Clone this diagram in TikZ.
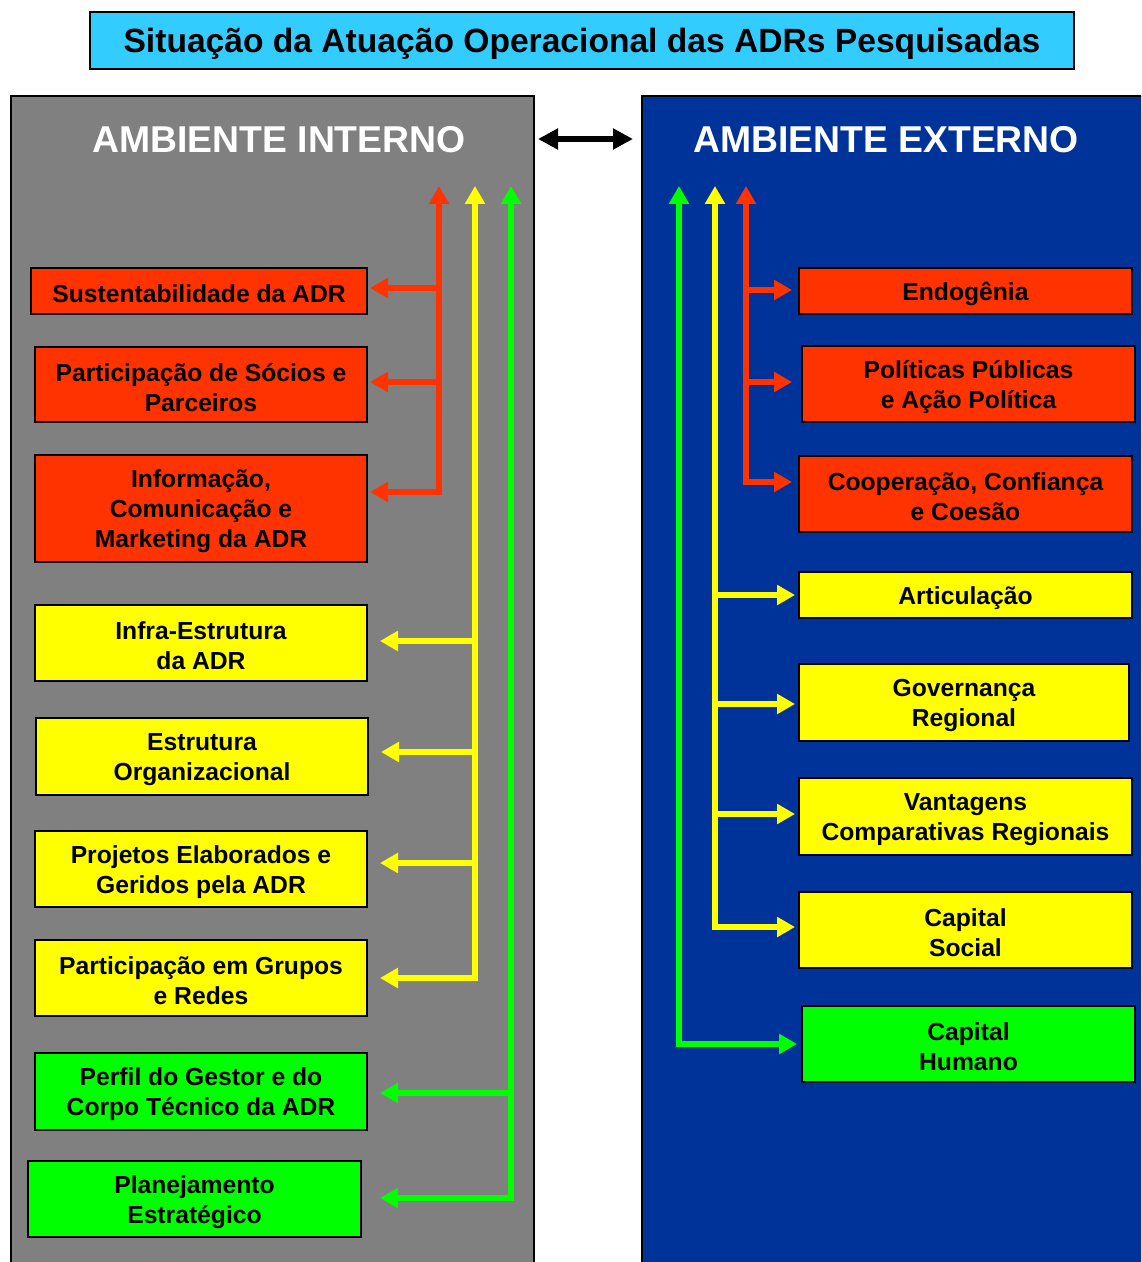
\documentclass[tikz,border=0pt]{standalone}
\usepackage{fontspec}
\setmainfont{Liberation Sans}
\usetikzlibrary{arrows.meta}
\definecolor{cred}{HTML}{FF3300}
\definecolor{cyel}{HTML}{FFFF00}
\definecolor{cgrn}{HTML}{00FF00}
\definecolor{cblue}{HTML}{003399}
\definecolor{cgray}{HTML}{808080}
\definecolor{ccyan}{HTML}{33CCFF}
\def\u{0.75pt}
\tikzset{
  box/.style={draw=black, line width=1.5pt, inner sep=0pt, align=center,
    font=\bfseries\fontsize{18.5}{22.5}\selectfont},
  oneline/.style={text height=18pt},
  twoline/.style={text height=40.5pt},
  threeline/.style={text height=63pt},
  rbox/.style={box, fill=cred},
  ybox/.style={box, fill=cyel},
  gbox/.style={box, fill=cgrn},
  conn/.style={line width=4.5pt, -{Triangle[length=13.5pt,width=14.5pt]}},
  both/.style={line width=4.5pt, {Triangle[length=13.5pt,width=14.5pt]}-{Triangle[length=13.5pt,width=14.5pt]}},
  panel/.style={draw=black, line width=1.2pt},
  head/.style={text=white, font=\bfseries\fontsize{28}{32}\selectfont},
}
\begin{document}
\begin{tikzpicture}[x=0.75pt,y=-0.75pt]
\useasboundingbox (0,0) rectangle (1141,1262);
\clip (0,0) rectangle (1141,1262);
\fill[white] (0,0) rectangle (1141,1262);
% title
\node[draw=black, line width=1.5pt, fill=ccyan, minimum width=984*\u, minimum height=57*\u, inner sep=0pt, text height=23pt,
  font=\bfseries\fontsize{25.2}{30}\selectfont] (title) at (582,40.5) {Situação da Atuação Operacional das ADRs Pesquisadas};
% panels
\fill[cgray] (11,96) rectangle (534,1270);
\draw[panel] (11,1270) -- (11,96) -- (534,96) -- (534,1270);
\fill[cblue] (642,96) rectangle (1150,1270);
\draw[panel] (1150,96) -- (642,96) -- (642,1270);
\node[head] (hi) at (279,140) {AMBIENTE INTERNO};
\node[head] (he) at (886,140) {AMBIENTE EXTERNO};
\coordinate (dl) at (538,139);
\coordinate (dr) at (633,139);
\draw[line width=4.5pt, {Triangle[length=15pt,width=15pt]}-{Triangle[length=15pt,width=15pt]}] (dl) -- (dr);
% left boxes
\node[rbox, oneline, minimum width=336*\u, minimum height=46*\u] (l1) at (199,291) {Sustentabilidade da ADR};
\node[rbox, twoline, minimum width=332*\u, minimum height=75*\u] (l2) at (201,384.5) {Participação de Sócios e\\Parceiros};
\node[rbox, threeline, minimum width=332*\u, minimum height=107*\u] (l3) at (201,508.5) {Informação,\\Comunicação e\\Marketing da ADR};
\node[ybox, twoline, minimum width=332*\u, minimum height=76*\u] (l4) at (201,643) {Infra-Estrutura\\da ADR};
\node[ybox, twoline, minimum width=332*\u, minimum height=77*\u] (l5) at (202,756.5) {Estrutura\\Organizacional};
\node[ybox, twoline, minimum width=332*\u, minimum height=76*\u] (l6) at (201,869) {Projetos Elaborados e\\Geridos pela ADR};
\node[ybox, twoline, minimum width=332*\u, minimum height=76*\u] (l7) at (201,978) {Participação em Grupos\\e Redes};
\node[gbox, twoline, minimum width=332*\u, minimum height=77*\u] (l8) at (201,1091.5) {Perfil do Gestor e do\\Corpo Técnico da ADR};
\node[gbox, twoline, minimum width=333*\u, minimum height=76*\u] (l9) at (194.5,1199) {Planejamento\\Estratégico};
% right boxes
\node[rbox, oneline, minimum width=333*\u, minimum height=46*\u] (r1) at (965.5,291) {Endogênia};
\node[rbox, twoline, minimum width=333*\u, minimum height=76*\u] (r2) at (968.5,384) {Políticas Públicas\\e Ação Política};
\node[rbox, twoline, minimum width=333*\u, minimum height=76*\u] (r3) at (965.5,494) {Cooperação, Confiança\\e Coesão};
\node[ybox, oneline, minimum width=333*\u, minimum height=46*\u] (r4) at (965.5,595) {Articulação};
\node[ybox, twoline, minimum width=330*\u, minimum height=77*\u] (r5) at (964,702.5) {Governança\\Regional};
\node[ybox, twoline, minimum width=333*\u, minimum height=77*\u] (r6) at (965.5,816.5) {Vantagens\\Comparativas Regionais};
\node[ybox, twoline, minimum width=333*\u, minimum height=76*\u] (r7) at (965.5,930) {Capital\\Social};
\node[gbox, twoline, minimum width=333*\u, minimum height=76*\u] (r8) at (968.5,1044) {Capital\\Humano};
% arrow tops
\coordinate (lrt) at (439,186);
\coordinate (lyt) at (475,186);
\coordinate (lgt) at (511,186);
\coordinate (rgt) at (679,186);
\coordinate (ryt) at (715,186);
\coordinate (rrt) at (746,186);
% left red
\draw[cred, both] ([xshift=2*\u]l3.east |- 0,492) -- (439,492) -- (lrt);
\draw[cred, conn] (439,288) -- ([xshift=2*\u]l1.east |- 0,288);
\draw[cred, conn] (439,382) -- ([xshift=2*\u]l2.east |- 0,382);
% left yellow
\draw[cyel, both] ([xshift=12*\u]l7.east |- 0,978) -- (475,978) -- (lyt);
\draw[cyel, conn] (475,641) -- ([xshift=12*\u]l4.east |- 0,641);
\draw[cyel, conn] (475,752) -- ([xshift=12*\u]l5.east |- 0,752);
\draw[cyel, conn] (475,863) -- ([xshift=12*\u]l6.east |- 0,863);
% left green
\draw[cgrn, both] ([xshift=18*\u]l9.east |- 0,1198) -- (511,1198) -- (lgt);
\draw[cgrn, conn] (511,1093) -- ([xshift=12*\u]l8.east |- 0,1093);
% right red
\draw[cred, both] ([xshift=-6*\u]r3.west |- 0,482) -- (746,482) -- (rrt);
\draw[cred, conn] (746,290) -- ([xshift=-6*\u]r1.west |- 0,290);
\draw[cred, conn] (746,382) -- ([xshift=-9*\u]r2.west |- 0,382);
% right yellow
\draw[cyel, both] ([xshift=-3*\u]r7.west |- 0,927) -- (715,927) -- (ryt);
\draw[cyel, conn] (715,595) -- ([xshift=-3*\u]r4.west |- 0,595);
\draw[cyel, conn] (715,704) -- ([xshift=-3*\u]r5.west |- 0,704);
\draw[cyel, conn] (715,814) -- ([xshift=-3*\u]r6.west |- 0,814);
% right green
\draw[cgrn, both] ([xshift=-4*\u]r8.west |- 0,1044) -- (679,1044) -- (rgt);
\end{tikzpicture}
\end{document}
